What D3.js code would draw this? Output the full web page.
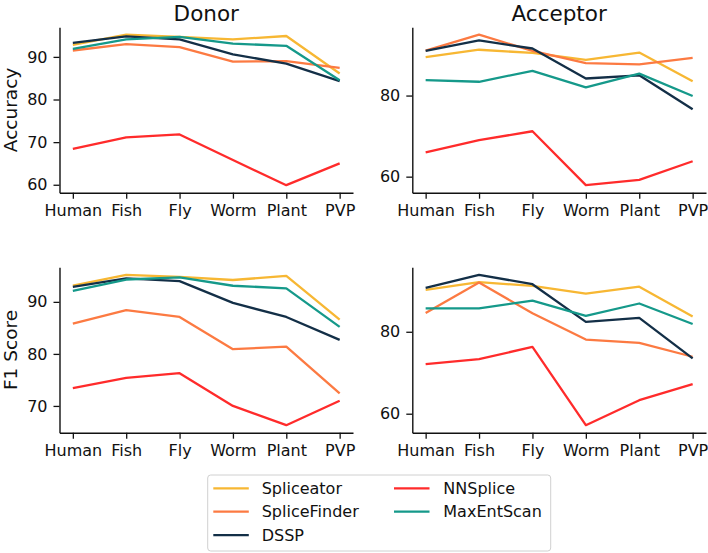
<!DOCTYPE html>
<html>
<head>
<meta charset="utf-8">
<script src="https://cdn.jsdelivr.net/npm/d3@7"></script>
<style>
  html, body { margin: 0; padding: 0; background: #fff; }
  svg { display: block; font-family: "DejaVu Sans", sans-serif; }
</style>
</head>
<body>
<svg id="chart" width="708" height="553"></svg>
<script>
const categories = ["Human", "Fish", "Fly", "Worm", "Plant", "PVP"];
const methods = ["Spliceator", "SpliceFinder", "DSSP", "NNSplice", "MaxEntScan"];
const colors = ["#F7B733", "#FC7A42", "#132F47", "#FF2B2B", "#15998A"];

const donorAccuracy = {
  Spliceator:   [92.8, 95.2, 94.7, 94.1, 94.9, 86.1],
  SpliceFinder: [91.5, 93.0, 92.3, 88.9, 89.0, 87.4],
  DSSP:         [93.3, 94.8, 94.1, 90.6, 88.4, 84.3],
  NNSplice:     [68.4, 71.1, 71.8, 65.8, 59.9, 65.0],
  MaxEntScan:   [91.9, 94.1, 94.7, 93.1, 92.6, 84.5]
};
const acceptorAccuracy = {
  Spliceator:   [89.5, 91.3, 90.5, 88.8, 90.6, 83.5],
  SpliceFinder: [91.1, 95.0, 91.0, 88.0, 87.7, 89.3],
  DSSP:         [91.0, 93.6, 91.6, 84.2, 85.0, 76.6],
  NNSplice:     [66.0, 69.0, 71.2, 57.9, 59.2, 63.8],
  MaxEntScan:   [83.8, 83.4, 86.1, 82.0, 85.4, 79.9]
};
const donorF1 = {
  Spliceator:   [93.1, 95.2, 94.8, 94.2, 95.0, 86.6],
  SpliceFinder: [85.8, 88.4, 87.1, 80.9, 81.4, 72.4],
  DSSP:         [92.9, 94.5, 94.0, 89.8, 87.1, 82.7],
  NNSplice:     [73.4, 75.4, 76.3, 70.0, 66.3, 71.0],
  MaxEntScan:   [92.1, 94.3, 94.7, 93.1, 92.6, 85.2]
};
const acceptorF1 = {
  Spliceator:   [90.2, 92.1, 91.2, 89.3, 91.0, 83.7],
  SpliceFinder: [84.6, 92.0, 84.5, 78.1, 77.3, 73.9],
  DSSP:         [90.7, 93.9, 91.6, 82.4, 83.4, 73.5],
  NNSplice:     [72.1, 73.3, 76.3, 57.2, 63.3, 67.2],
  MaxEntScan:   [85.7, 85.7, 87.6, 83.9, 86.9, 81.9]
};

const donorAccTicks = [60, 70, 80, 90];
const acceptorAccTicks = [60, 80];
const donorF1Ticks = [70, 80, 90];
const acceptorF1Ticks = [60, 80];

const svg = d3.select("#chart");

const panels = [
  { data: donorAccuracy,    ticks: donorAccTicks,    x0: 59.5,  x1: 353, y0: 27.2,  y1: 192.7, title: "Donor",    ylabel: "Accuracy" },
  { data: acceptorAccuracy, ticks: acceptorAccTicks, x0: 412.3, x1: 706, y0: 27.2,  y1: 192.7, title: "Acceptor", ylabel: null },
  { data: donorF1,          ticks: donorF1Ticks,     x0: 59.5,  x1: 353, y0: 267.3, y1: 432.7, title: null,       ylabel: "F1 Score" },
  { data: acceptorF1,       ticks: acceptorF1Ticks,  x0: 412.3, x1: 706, y0: 267.3, y1: 432.7, title: null,       ylabel: null }
];

panels.forEach(p => {
  const g = svg.append("g");
  const x = d3.scalePoint().domain(categories).range([p.x0, p.x1]).padding(0.25);
  const all = methods.flatMap(m => p.data[m]);
  const [lo, hi] = d3.extent(all);
  const pad = (hi - lo) * 0.05;
  const y = d3.scaleLinear().domain([lo - pad, hi + pad]).range([p.y1, p.y0]);

  const line = d3.line().x((d, i) => x(categories[i])).y(d => y(d));
  methods.forEach((m, k) => {
    g.append("path")
      .datum(p.data[m])
      .attr("fill", "none")
      .attr("stroke", colors[k])
      .attr("stroke-width", 2.3)
      .attr("stroke-linejoin", "round")
      .attr("d", line);
  });

  const xa = g.append("g").attr("transform", `translate(0,${p.y1})`)
    .call(d3.axisBottom(x).tickSize(6).tickSizeOuter(0).tickPadding(6));
  const ya = g.append("g").attr("transform", `translate(${p.x0},0)`)
    .call(d3.axisLeft(y).tickValues(p.ticks).tickSize(6).tickSizeOuter(0).tickPadding(6));
  [xa, ya].forEach(a => {
    a.selectAll("text").attr("font-size", 16).attr("fill", "#111").attr("font-family", "DejaVu Sans, sans-serif");
    a.selectAll("line").attr("stroke", "#111").attr("stroke-width", 1.3);
    a.select(".domain").attr("stroke", "#111").attr("stroke-width", 1.4);
  });

  if (p.title) {
    g.append("text")
      .attr("x", (p.x0 + p.x1) / 2).attr("y", 20.5)
      .attr("text-anchor", "middle")
      .attr("font-size", 21.5).attr("fill", "#111")
      .text(p.title);
  }
  if (p.ylabel) {
    g.append("text")
      .attr("transform", `translate(17.4,${(p.y0 + p.y1) / 2}) rotate(-90)`)
      .attr("text-anchor", "middle")
      .attr("font-size", 18.5).attr("fill", "#111")
      .text(p.ylabel);
  }
});

// legend
const leg = svg.append("g");
leg.append("rect")
  .attr("x", 207.7).attr("y", 475).attr("width", 343).attr("height", 76)
  .attr("rx", 3).attr("fill", "#fff").attr("fill-opacity", 0.85)
  .attr("stroke", "#d0d0d0").attr("stroke-width", 1);
const rowsPerCol = 3;
methods.forEach((m, k) => {
  const col = Math.floor(k / rowsPerCol), row = k % rowsPerCol;
  const lx = col === 0 ? 213.3 : 394;
  const tx = col === 0 ? 261.7 : 443.3;
  const cy = 488.3 + row * 23.4;
  leg.append("line").attr("x1", lx).attr("x2", lx + 35.5).attr("y1", cy).attr("y2", cy)
    .attr("stroke", colors[k]).attr("stroke-width", 2.3);
  leg.append("text").attr("x", tx).attr("y", cy).attr("dy", "0.35em")
    .attr("font-size", 16).attr("fill", "#111").text(m);
});
</script>
</body>
</html>
